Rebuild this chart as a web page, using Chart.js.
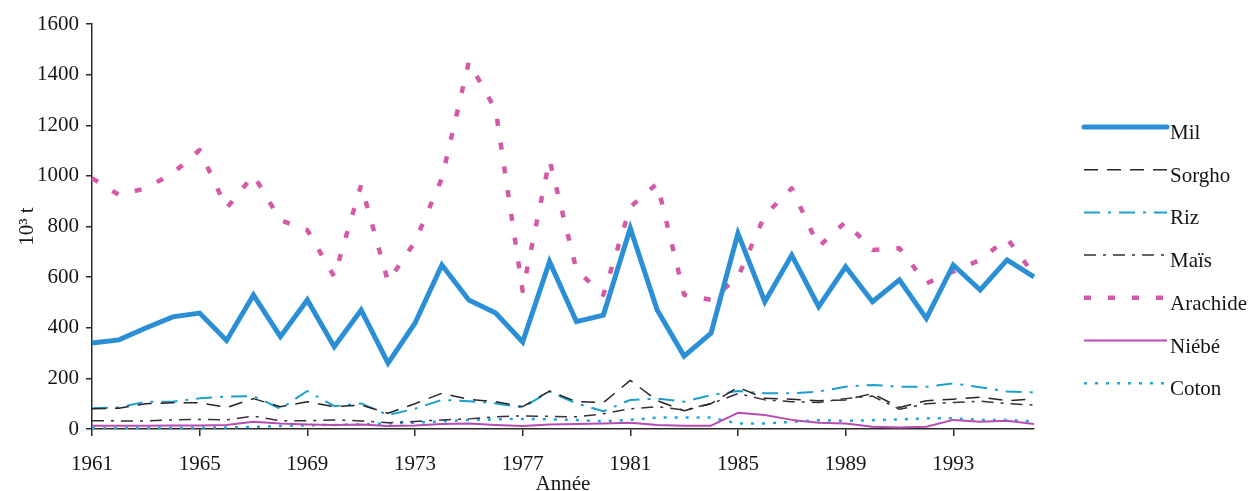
<!DOCTYPE html>
<html>
<head>
<meta charset="utf-8">
<script src="https://cdn.jsdelivr.net/npm/chart.js@4.4.1/dist/chart.umd.min.js"></script>
<style>
  html, body { margin: 0; padding: 0; background: #fff; }
  #wrap { width: 1250px; height: 491px; }
</style>
</head>
<body>
<div id="wrap"><canvas id="chart"></canvas></div>
<script>
// years on the x axis (labelled every 4 years)
const years = [
  "1961", "1962", "1963", "1964", "1965", "1966", "1967", "1968", "1969", "1970",
  "1971", "1972", "1973", "1974", "1975", "1976", "1977", "1978", "1979", "1980",
  "1981", "1982", "1983", "1984", "1985", "1986", "1987", "1988", "1989", "1990",
  "1991", "1992", "1993", "1994", "1995", "1996"
];

// production, 10^3 t
const mil = [340, 352, 399, 443, 458, 350, 529, 365, 510, 325, 470, 260, 418, 648, 510, 458,
  344, 661, 424, 450, 793, 470, 288, 379, 773, 503, 687, 483, 641, 503, 589, 437, 648, 549, 668, 601];
const sorgho = [80, 82, 100, 104, 104, 85, 120, 88, 108, 88, 95, 62, 100, 141, 117, 108,
  88, 150, 108, 104, 192, 112, 72, 100, 165, 121, 118, 112, 115, 140, 85, 112, 118, 126, 112, 118];
const riz = [82, 85, 108, 108, 121, 128, 130, 80, 150, 90, 101, 55, 80, 115, 110, 101,
  85, 148, 101, 70, 115, 120, 108, 134, 150, 141, 141, 148, 167, 174, 167, 167, 180, 165, 148, 145];
const mais = [33, 32, 32, 36, 38, 36, 51, 32, 33, 36, 32, 25, 30, 36, 40, 48,
  52, 50, 48, 60, 80, 88, 75, 100, 140, 115, 108, 105, 120, 130, 78, 100, 105, 110, 100, 95];
const arachide = [991, 925, 951, 1010, 1102, 872, 1003, 825, 786, 602, 964, 582, 740, 990, 1450, 1260,
  545, 1063, 628, 530, 877, 970, 530, 510, 600, 845, 951, 720, 818, 707, 714, 575, 622, 668, 753, 610];
const niebe = [13, 13, 13, 14, 14, 16, 29, 22, 18, 16, 18, 12, 14, 20, 22, 16,
  12, 18, 20, 22, 25, 16, 13, 13, 64, 55, 36, 25, 22, 9, 6, 9, 36, 29, 33, 20];
const coton = [3, 3, 4, 4, 5, 6, 8, 12, 15, 16, 18, 22, 25, 30, 36, 38,
  40, 38, 36, 30, 36, 45, 45, 45, 22, 22, 28, 35, 32, 35, 38, 42, 42, 36, 36, 30];

const yTicks = [0, 200, 400, 600, 800, 1000, 1200, 1400, 1600];

const serif = '"Liberation Serif", "DejaVu Serif", serif';
const axisColor = "#2a2a2a";
const textColor = "#151515";

Chart.defaults.font.family = serif;
Chart.defaults.color = textColor;

function series(label, data, color, width, dash, join) {
  return {
    label: label,
    data: data,
    borderColor: color,
    backgroundColor: color,
    borderWidth: width,
    borderDash: dash,
    borderJoinStyle: join || "round",
    pointRadius: 0,
    pointHoverRadius: 0,
    tension: 0,
    fill: false
  };
}

// legend drawn at the right of the plot, one line sample + label per dataset
const sideLegend = {
  id: "sideLegend",
  afterDraw(chart) {
    const { ctx, chartArea } = chart;
    const x0 = chartArea.right + 50;
    chart.data.datasets.forEach((ds, i) => {
      const y = chartArea.top + 103 + i * 42.7;
      ctx.save();
      ctx.strokeStyle = ds.borderColor;
      ctx.lineWidth = ds.borderWidth;
      ctx.lineCap = i === 0 ? "round" : "butt";
      ctx.setLineDash(ds.borderDash || []);
      ctx.beginPath();
      ctx.moveTo(x0, y);
      ctx.lineTo(x0 + 83, y);
      ctx.stroke();
      ctx.setLineDash([]);
      ctx.fillStyle = textColor;
      ctx.font = "21px " + serif;
      ctx.textBaseline = "alphabetic";
      ctx.fillText(ds.label, x0 + 86, y + 12);
      ctx.restore();
    });
  }
};

new Chart(document.getElementById("chart"), {
  type: "line",
  data: {
    labels: years,
    datasets: [
      series("Mil", mil, "#2b8fd5", 5, [], "miter"),
      series("Sorgho", sorgho, "#262626", 1.5, [14, 9]),
      series("Riz", riz, "#1c9fcc", 2, [16, 8, 3, 8]),
      series("Maïs", mais, "#3d2c42", 1.5, [12, 7, 3, 7]),
      series("Arachide", arachide, "#d35aa6", 4.5, [7, 17]),
      series("Niébé", niebe, "#b84cb5", 2, []),
      series("Coton", coton, "#22a6d8", 2.5, [3, 8])
    ]
  },
  options: {
    responsive: true,
    maintainAspectRatio: false,
    animation: false,
    devicePixelRatio: 1,
    layout: { padding: { top: 24, right: 216, bottom: 0, left: 0 } },
    plugins: {
      legend: { display: false },
      tooltip: { enabled: false }
    },
    scales: {
      x: {
        type: "category",
        offset: false,
        border: { display: true, color: axisColor, width: 1.5 },
        grid: {
          drawOnChartArea: false,
          drawTicks: true,
          tickLength: 7,
          lineWidth: 1.5,
          color: axisColor,
          tickColor: (c) => (c.index % 4 === 0 ? axisColor : "rgba(0,0,0,0)")
        },
        ticks: {
          autoSkip: false,
          maxRotation: 0,
          padding: 16,
          color: textColor,
          font: { size: 21 },
          callback(v, i) {
            return i % 4 === 0 ? this.getLabelForValue(v) : "";
          }
        },
        title: {
          display: true,
          text: "Année",
          color: textColor,
          font: { size: 21, lineHeight: 1 },
          padding: { top: 0, bottom: -4 }
        },
        afterFit(s) { s.height = 62; }
      },
      y: {
        min: yTicks[0],
        max: yTicks[yTicks.length - 1],
        border: { display: true, color: axisColor, width: 1.5 },
        grid: {
          drawOnChartArea: false,
          drawTicks: true,
          tickLength: 6,
          lineWidth: 1.5,
          color: axisColor
        },
        ticks: {
          stepSize: yTicks[1] - yTicks[0],
          padding: 7,
          color: textColor,
          font: { size: 21 },
          callback: (v) => String(v)
        },
        title: {
          display: true,
          text: "10³ t",
          color: textColor,
          font: { size: 21 },
          padding: { top: 15, bottom: 0 }
        },
        afterFit(s) { s.width = 92; }
      }
    }
  },
  plugins: [sideLegend]
});
</script>
</body>
</html>
